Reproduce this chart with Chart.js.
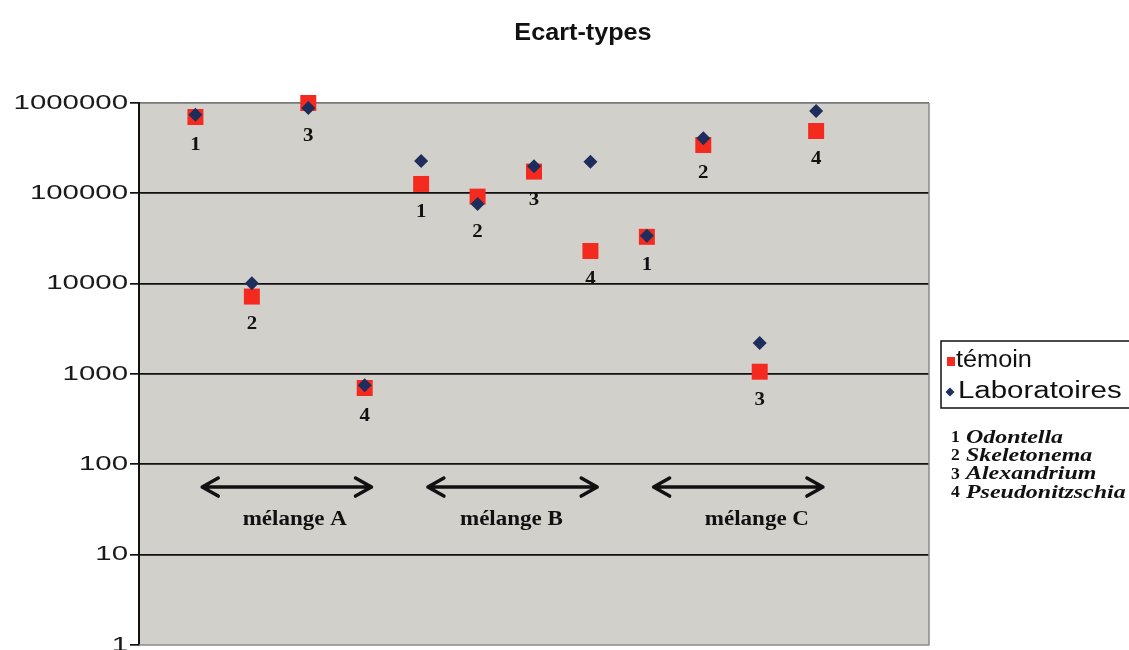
<!DOCTYPE html>
<html>
<head>
<meta charset="utf-8">
<title>Ecart-types</title>
<script src="https://cdn.jsdelivr.net/npm/chart.js@4.4.0/dist/chart.umd.min.js"></script>
<style>
  html, body { margin: 0; padding: 0; background: #ffffff; }
  #cadre { position: relative; width: 1129px; height: 650px; }
</style>
</head>
<body>
<div id="cadre"><canvas id="grafico" width="1129" height="650"></canvas></div>
<script>
// données
const titre = 'Ecart-types';
const especes = ['Odontella', 'Skeletonema', 'Alexandrium', 'Pseudonitzschia'];
const numeros = [1, 2, 3, 4, 1, 2, 3, 4, 1, 2, 3, 4];
const melanges = ['mélange A', 'mélange B', 'mélange C'];
const temoin = [700000, 7200, 1000000, 700, 127000, 92000, 174000, 23000, 33000, 343000, 1060, 490000];
const laboratoires = [740000, 10100, 880000, 750, 228000, 76000, 200000, 224000, 34000, 407000, 2200, 815000];
const yTicks = [1, 10, 100, 1000, 10000, 100000, 1000000];

const canva = document.getElementById('grafico');
const SERIF = '"Liberation Serif", "Times New Roman", serif';
const SANS = '"Liberation Sans", Arial, sans-serif';

// texte étiré horizontalement (le scan est plus large que haut)
function texte(ctx, str, x, y, font, align, etire, couleur) {
    ctx.save();
    ctx.font = font;
    ctx.fillStyle = couleur || '#111';
    ctx.textAlign = align;
    ctx.textBaseline = 'middle';
    ctx.translate(x, y);
    ctx.scale(etire, 1);
    ctx.fillText(str, 0, 0);
    ctx.restore();
}

function fleche(ctx, x1, x2, y) {
    ctx.save();
    ctx.strokeStyle = '#111';
    ctx.lineWidth = 3.5;
    ctx.lineCap = 'round';
    ctx.lineJoin = 'round';
    ctx.beginPath();
    ctx.moveTo(x1, y);
    ctx.lineTo(x2, y);
    ctx.moveTo(x1 + 16, y - 9);
    ctx.lineTo(x1, y);
    ctx.lineTo(x1 + 16, y + 9);
    ctx.moveTo(x2 - 16, y - 9);
    ctx.lineTo(x2, y);
    ctx.lineTo(x2 - 16, y + 9);
    ctx.stroke();
    ctx.restore();
}

const fond = {
    id: 'fond',
    beforeDraw(chart) {
        const { ctx, chartArea: a } = chart;
        ctx.save();
        ctx.fillStyle = '#ffffff';
        ctx.fillRect(0, 0, chart.width, chart.height);
        ctx.fillStyle = '#d2d0cb';
        ctx.fillRect(a.left, a.top, a.right - a.left, a.bottom - a.top);
        ctx.restore();
    },
    beforeDatasetsDraw(chart) {
        const { ctx, chartArea: a } = chart;
        ctx.save();
        ctx.strokeStyle = '#8a8a8a';
        ctx.lineWidth = 1.5;
        ctx.beginPath();
        ctx.moveTo(a.right, a.top);
        ctx.lineTo(a.right, a.bottom);
        ctx.lineTo(a.left, a.bottom);
        ctx.stroke();
        ctx.restore();
    }
};

const annotations = {
    id: 'annotations',
    afterDraw(chart) {
        const ctx = chart.ctx;
        const xs = chart.scales.x;
        const ys = chart.scales.y;

        // titre
        texte(ctx, titre, 583, 33, 'bold 24px ' + SANS, 'center', 1.05, '#111');

        // étiquettes de l'axe y
        yTicks.forEach(v => {
            texte(ctx, String(v), 128, ys.getPixelForValue(v), '21px ' + SANS, 'right', 1.4, '#1a1a1a');
        });

        // numéros d'espèce sous chaque point
        numeros.forEach((n, i) => {
            const x = xs.getPixelForValue(i + 1);
            const y = Math.max(ys.getPixelForValue(temoin[i]), ys.getPixelForValue(laboratoires[i])) + 28;
            texte(ctx, String(n), x, y, 'bold 19px ' + SERIF, 'center', 1.1, '#111');
        });

        // flèches et noms des mélanges
        const centres = [2.76, 6.6, 10.95];
        melanges.forEach((m, k) => {
            const x1 = xs.getPixelForValue(4 * k + 1 + 0.12);
            const x2 = xs.getPixelForValue(4 * k + 4 + 0.12);
            fleche(ctx, x1, x2, ys.getPixelForValue(56));
            texte(ctx, m, xs.getPixelForValue(centres[k]), ys.getPixelForValue(24), 'bold 20px ' + SERIF, 'center', 1.15, '#111');
        });

        // légende encadrée
        ctx.save();
        ctx.strokeStyle = '#111';
        ctx.lineWidth = 1.5;
        ctx.strokeRect(941, 341, 200, 67);
        ctx.fillStyle = '#f52a1e';
        ctx.fillRect(947, 357, 8, 9);
        ctx.fillStyle = '#1e2d5c';
        ctx.beginPath();
        ctx.moveTo(950, 387.5);
        ctx.lineTo(954.5, 392);
        ctx.lineTo(950, 396.5);
        ctx.lineTo(945.5, 392);
        ctx.closePath();
        ctx.fill();
        ctx.restore();
        texte(ctx, 'témoin', 956, 361, '23px ' + SANS, 'left', 1.1, '#111');
        texte(ctx, 'Laboratoires', 958, 392, '23px ' + SANS, 'left', 1.28, '#111');

        // liste des espèces
        especes.forEach((e, k) => {
            const y = 438 + k * 18.3;
            texte(ctx, String(k + 1), 951, y, 'bold 16px ' + SERIF, 'left', 1.1, '#111');
            texte(ctx, e, 966, y, 'bold italic 18px ' + SERIF, 'left', 1.33, '#111');
        });
    }
};

const rang = numeros.map((n, i) => i + 1);

window.myChart = new Chart(canva, {
    type: 'scatter',
    data: {
        datasets: [{
            label: 'témoin',
            data: rang.map((x, i) => ({ x: x, y: temoin[i] })),
            pointStyle: 'rect',
            pointRadius: 11.3,
            pointHoverRadius: 11.3,
            backgroundColor: '#f52a1e',
            borderColor: '#f52a1e',
            borderWidth: 0,
            order: 2,
            clip: false
        }, {
            label: 'Laboratoires',
            data: rang.map((x, i) => ({ x: x, y: laboratoires[i] })),
            pointStyle: 'rectRot',
            pointRadius: 7,
            pointHoverRadius: 7,
            backgroundColor: '#1e2d5c',
            borderColor: '#1e2d5c',
            borderWidth: 0,
            order: 1,
            clip: false
        }]
    },
    options: {
        responsive: false,
        animation: false,
        devicePixelRatio: 1,
        layout: { autoPadding: false, padding: { left: 130, right: 200, top: 103, bottom: 5 } },
        plugins: {
            legend: { display: false },
            tooltip: { enabled: false },
            title: { display: false }
        },
        scales: {
            x: {
                type: 'linear',
                display: false,
                min: 0,
                max: 14
            },
            y: {
                type: 'logarithmic',
                min: 1,
                max: 1000000,
                afterBuildTicks: (s) => { s.ticks = yTicks.map(v => ({ value: v })); },
                ticks: { display: false },
                grid: {
                    color: (c) => c.tick && c.tick.value === 1000000 ? '#7a7a7a' : (c.tick && c.tick.value === 1 ? 'rgba(0,0,0,0)' : '#111'),
                    tickColor: '#111',
                    lineWidth: 1.7,
                    tickLength: 9,
                    drawTicks: true
                },
                border: { color: '#111', width: 2 }
            }
        }
    },
    plugins: [fond, annotations]
});
</script>
</body>
</html>
